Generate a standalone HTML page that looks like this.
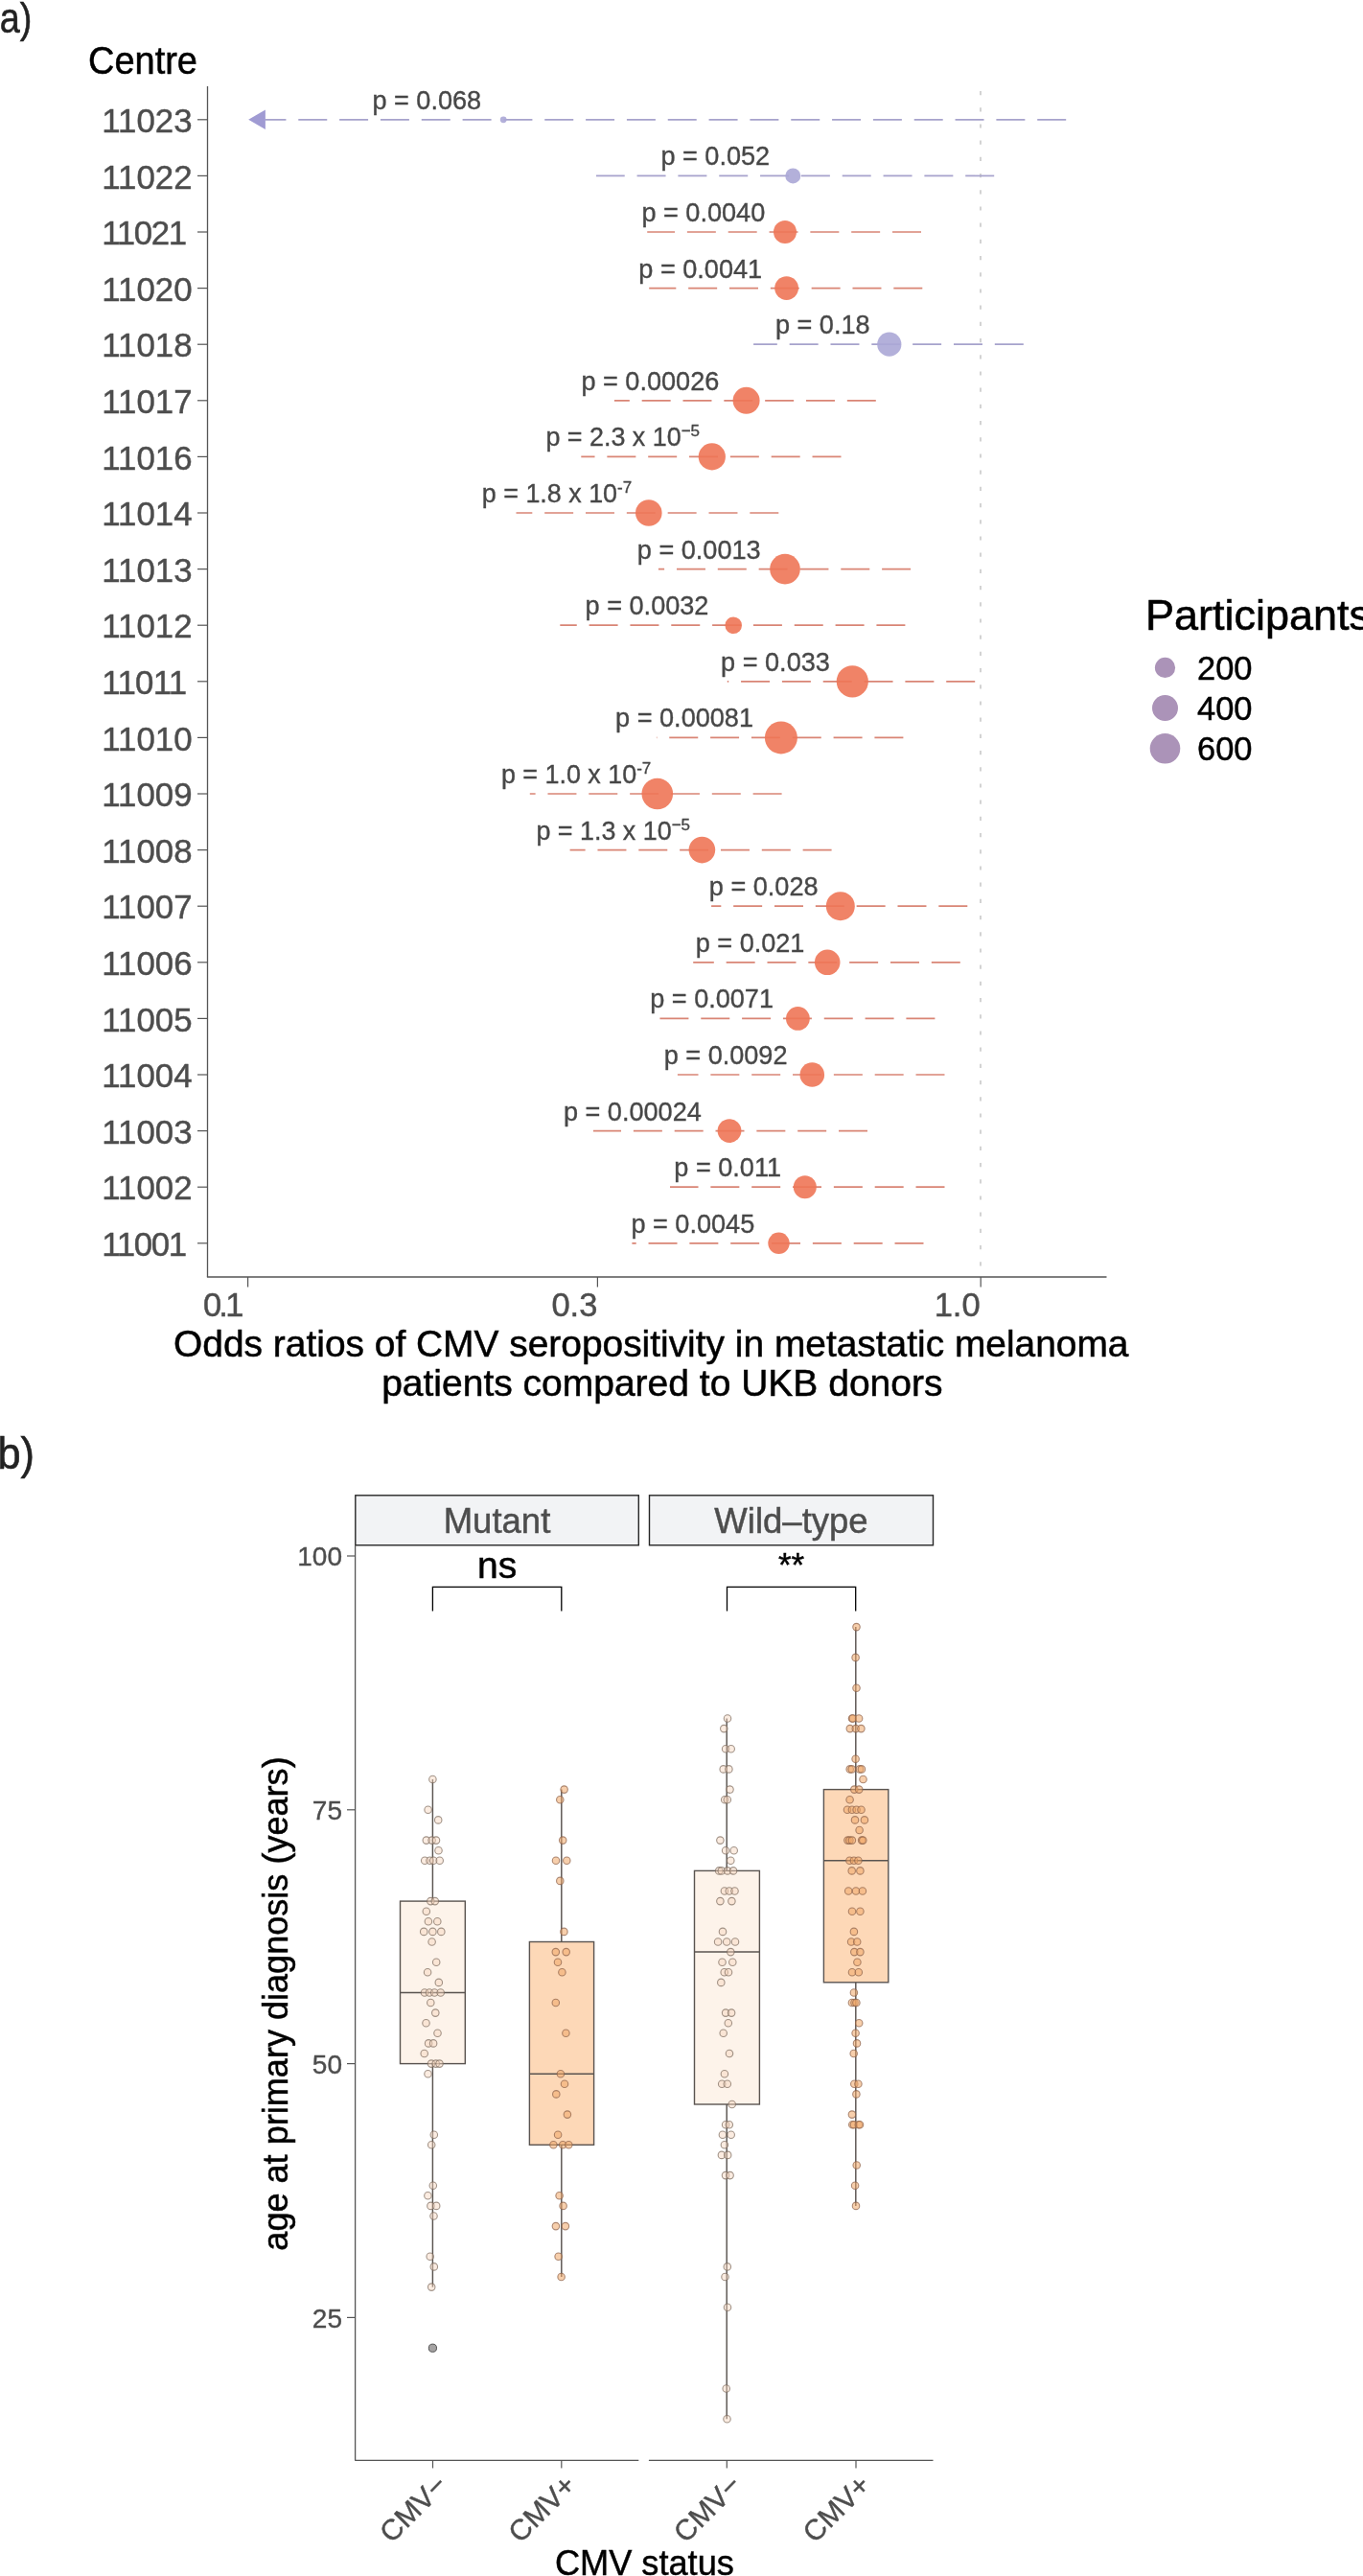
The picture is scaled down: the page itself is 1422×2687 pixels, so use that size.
<!DOCTYPE html>
<html><head><meta charset="utf-8"><style>
html,body{margin:0;padding:0;background:#fff;width:1422px;height:2687px;overflow:hidden}
svg text{font-family:"Liberation Sans", sans-serif}
</style></head><body>
<svg width="1422" height="2687" viewBox="0 0 1422 2687" style="position:absolute;left:0;top:0;will-change:transform">
<rect width="1422" height="2687" fill="#fff"/>
<text x="-0.3" y="33.8" font-size="45" fill="#222" textLength="33.6" lengthAdjust="spacingAndGlyphs" stroke="#222" stroke-width="0.58">a)</text>
<text x="-2.5" y="1532" font-size="46" fill="#222" textLength="38.5" lengthAdjust="spacingAndGlyphs" stroke="#222" stroke-width="0.60">b)</text>
<text x="92" y="76.6" font-size="40" fill="#000" textLength="114" lengthAdjust="spacingAndGlyphs" stroke="#000" stroke-width="0.52">Centre</text>
<line x1="1023" y1="90" x2="1023" y2="1332.0" stroke="#c9c9c9" stroke-width="1.6" stroke-dasharray="4.2 13" stroke-dashoffset="-5"/>
<line x1="206" y1="124.8" x2="216.5" y2="124.8" stroke="#555555" stroke-width="1.2"/>
<text x="200.5" y="138.0" font-size="34.8" fill="#4D4D4D" text-anchor="end" stroke="#4D4D4D" stroke-width="0.45">11023</text>
<line x1="1112.2" y1="124.8" x2="276.5" y2="124.8" stroke="#A6A2CC" stroke-width="1.7" stroke-dasharray="29.98 12.85"/>
<path d="M259.2 124.8 L276.9 114.6 L276.9 135.0 Z" fill="#A09BD3"/>
<circle cx="525.2" cy="124.8" r="3.4" fill="#ABA7D6" fill-opacity="0.9"/>
<text x="388.4" y="113.8" font-size="27.1" fill="#474747" stroke="#474747" stroke-width="0.35">p = 0.068</text>
<line x1="206" y1="183.4" x2="216.5" y2="183.4" stroke="#555555" stroke-width="1.2"/>
<text x="200.5" y="196.6" font-size="34.8" fill="#4D4D4D" text-anchor="end" stroke="#4D4D4D" stroke-width="0.45">11022</text>
<line x1="1037.2" y1="183.4" x2="622.0" y2="183.4" stroke="#A6A2CC" stroke-width="1.7" stroke-dasharray="29.98 12.85"/>
<circle cx="827.3" cy="183.4" r="8.0" fill="#ABA7D6" fill-opacity="0.9"/>
<text x="689.4000000000001" y="172.4" font-size="27.1" fill="#474747" stroke="#474747" stroke-width="0.35">p = 0.052</text>
<line x1="206" y1="242.0" x2="216.5" y2="242.0" stroke="#555555" stroke-width="1.2"/>
<text x="195.2" y="255.2" font-size="34.8" fill="#4D4D4D" text-anchor="end" textLength="88.9" lengthAdjust="spacing" stroke="#4D4D4D" stroke-width="0.45">11021</text>
<line x1="961.0" y1="242.0" x2="675.2" y2="242.0" stroke="#D98575" stroke-width="1.7" stroke-dasharray="29.98 12.85"/>
<circle cx="819.0" cy="242.0" r="12.0" fill="#EE7556" fill-opacity="0.9"/>
<text x="669.4000000000001" y="231.0" font-size="27.1" fill="#474747" stroke="#474747" stroke-width="0.35">p = 0.0040</text>
<line x1="206" y1="300.6" x2="216.5" y2="300.6" stroke="#555555" stroke-width="1.2"/>
<text x="200.5" y="313.8" font-size="34.8" fill="#4D4D4D" text-anchor="end" stroke="#4D4D4D" stroke-width="0.45">11020</text>
<line x1="962.3" y1="300.6" x2="677.2" y2="300.6" stroke="#D98575" stroke-width="1.7" stroke-dasharray="29.98 12.85"/>
<circle cx="820.6" cy="300.6" r="12.4" fill="#EE7556" fill-opacity="0.9"/>
<text x="666.3000000000001" y="289.6" font-size="27.1" fill="#474747" stroke="#474747" stroke-width="0.35">p = 0.0041</text>
<line x1="206" y1="359.2" x2="216.5" y2="359.2" stroke="#555555" stroke-width="1.2"/>
<text x="200.5" y="372.4" font-size="34.8" fill="#4D4D4D" text-anchor="end" stroke="#4D4D4D" stroke-width="0.45">11018</text>
<line x1="1067.8" y1="359.2" x2="786.1" y2="359.2" stroke="#A6A2CC" stroke-width="1.7" stroke-dasharray="29.98 12.85"/>
<circle cx="927.8" cy="359.2" r="12.6" fill="#ABA7D6" fill-opacity="0.9"/>
<text x="808.9000000000001" y="348.2" font-size="27.1" fill="#474747" stroke="#474747" stroke-width="0.35">p = 0.18</text>
<line x1="206" y1="417.8" x2="216.5" y2="417.8" stroke="#555555" stroke-width="1.2"/>
<text x="200.5" y="431.0" font-size="34.8" fill="#4D4D4D" text-anchor="end" stroke="#4D4D4D" stroke-width="0.45">11017</text>
<line x1="913.8" y1="417.8" x2="640.9" y2="417.8" stroke="#D98575" stroke-width="1.7" stroke-dasharray="29.98 12.85"/>
<circle cx="778.6" cy="417.8" r="14.0" fill="#EE7556" fill-opacity="0.9"/>
<text x="606.4000000000001" y="406.8" font-size="27.1" fill="#474747" stroke="#474747" stroke-width="0.35">p = 0.00026</text>
<line x1="206" y1="476.4" x2="216.5" y2="476.4" stroke="#555555" stroke-width="1.2"/>
<text x="200.5" y="489.6" font-size="34.8" fill="#4D4D4D" text-anchor="end" stroke="#4D4D4D" stroke-width="0.45">11016</text>
<line x1="877.5" y1="476.4" x2="606.3" y2="476.4" stroke="#D98575" stroke-width="1.7" stroke-dasharray="29.98 12.85"/>
<circle cx="742.8" cy="476.4" r="14.1" fill="#EE7556" fill-opacity="0.9"/>
<text x="569.4" y="465.4" font-size="26.9" fill="#474747" stroke="#474747" stroke-width="0.35">p = 2.3 x 10<tspan font-size="17" dy="-10">−5</tspan></text>
<line x1="206" y1="535.0" x2="216.5" y2="535.0" stroke="#555555" stroke-width="1.2"/>
<text x="200.5" y="548.2" font-size="34.8" fill="#4D4D4D" text-anchor="end" stroke="#4D4D4D" stroke-width="0.45">11014</text>
<line x1="812.3" y1="535.0" x2="538.5" y2="535.0" stroke="#D98575" stroke-width="1.7" stroke-dasharray="29.98 12.85"/>
<circle cx="676.8" cy="535.0" r="13.8" fill="#EE7556" fill-opacity="0.9"/>
<text x="502.8" y="524.0" font-size="26.9" fill="#474747" stroke="#474747" stroke-width="0.35">p = 1.8 x 10<tspan font-size="17" dy="-10">-7</tspan></text>
<line x1="206" y1="593.6" x2="216.5" y2="593.6" stroke="#555555" stroke-width="1.2"/>
<text x="200.5" y="606.8" font-size="34.8" fill="#4D4D4D" text-anchor="end" stroke="#4D4D4D" stroke-width="0.45">11013</text>
<line x1="950.1" y1="593.6" x2="686.9" y2="593.6" stroke="#D98575" stroke-width="1.7" stroke-dasharray="29.98 12.85"/>
<circle cx="819.0" cy="593.6" r="15.8" fill="#EE7556" fill-opacity="0.9"/>
<text x="664.8000000000001" y="582.6" font-size="27.1" fill="#474747" stroke="#474747" stroke-width="0.35">p = 0.0013</text>
<line x1="206" y1="652.2" x2="216.5" y2="652.2" stroke="#555555" stroke-width="1.2"/>
<text x="200.5" y="665.4" font-size="34.8" fill="#4D4D4D" text-anchor="end" stroke="#4D4D4D" stroke-width="0.45">11012</text>
<line x1="944.4" y1="652.2" x2="584.3" y2="652.2" stroke="#D98575" stroke-width="1.7" stroke-dasharray="29.98 12.85"/>
<circle cx="765.2" cy="652.2" r="8.8" fill="#EE7556" fill-opacity="0.9"/>
<text x="610.6" y="641.2" font-size="27.1" fill="#474747" stroke="#474747" stroke-width="0.35">p = 0.0032</text>
<line x1="206" y1="710.8" x2="216.5" y2="710.8" stroke="#555555" stroke-width="1.2"/>
<text x="195.2" y="724.0" font-size="34.8" fill="#4D4D4D" text-anchor="end" textLength="88.9" lengthAdjust="spacing" stroke="#4D4D4D" stroke-width="0.45">11011</text>
<line x1="1017.2" y1="710.8" x2="758.8" y2="710.8" stroke="#D98575" stroke-width="1.7" stroke-dasharray="29.98 12.85"/>
<circle cx="889.3" cy="710.8" r="16.6" fill="#EE7556" fill-opacity="0.9"/>
<text x="752.1" y="699.8" font-size="27.1" fill="#474747" stroke="#474747" stroke-width="0.35">p = 0.033</text>
<line x1="206" y1="769.4" x2="216.5" y2="769.4" stroke="#555555" stroke-width="1.2"/>
<text x="200.5" y="782.6" font-size="34.8" fill="#4D4D4D" text-anchor="end" stroke="#4D4D4D" stroke-width="0.45">11010</text>
<line x1="942.4" y1="769.4" x2="684.9" y2="769.4" stroke="#D98575" stroke-width="1.7" stroke-dasharray="29.98 12.85"/>
<circle cx="814.9" cy="769.4" r="17.0" fill="#EE7556" fill-opacity="0.9"/>
<text x="642.1" y="758.4" font-size="27.1" fill="#474747" stroke="#474747" stroke-width="0.35">p = 0.00081</text>
<line x1="206" y1="828.0" x2="216.5" y2="828.0" stroke="#555555" stroke-width="1.2"/>
<text x="200.5" y="841.2" font-size="34.8" fill="#4D4D4D" text-anchor="end" stroke="#4D4D4D" stroke-width="0.45">11009</text>
<line x1="815.6" y1="828.0" x2="552.8" y2="828.0" stroke="#D98575" stroke-width="1.7" stroke-dasharray="29.98 12.85"/>
<circle cx="685.8" cy="828.0" r="16.3" fill="#EE7556" fill-opacity="0.9"/>
<text x="522.9" y="817.0" font-size="26.9" fill="#474747" stroke="#474747" stroke-width="0.35">p = 1.0 x 10<tspan font-size="17" dy="-10">-7</tspan></text>
<line x1="206" y1="886.6" x2="216.5" y2="886.6" stroke="#555555" stroke-width="1.2"/>
<text x="200.5" y="899.8" font-size="34.8" fill="#4D4D4D" text-anchor="end" stroke="#4D4D4D" stroke-width="0.45">11008</text>
<line x1="867.6" y1="886.6" x2="594.6" y2="886.6" stroke="#D98575" stroke-width="1.7" stroke-dasharray="29.98 12.85"/>
<circle cx="732.4" cy="886.6" r="13.8" fill="#EE7556" fill-opacity="0.9"/>
<text x="559.4" y="875.6" font-size="26.9" fill="#474747" stroke="#474747" stroke-width="0.35">p = 1.3 x 10<tspan font-size="17" dy="-10">−5</tspan></text>
<line x1="206" y1="945.2" x2="216.5" y2="945.2" stroke="#555555" stroke-width="1.2"/>
<text x="200.5" y="958.4" font-size="34.8" fill="#4D4D4D" text-anchor="end" stroke="#4D4D4D" stroke-width="0.45">11007</text>
<line x1="1009.3" y1="945.2" x2="742.1" y2="945.2" stroke="#D98575" stroke-width="1.7" stroke-dasharray="29.98 12.85"/>
<circle cx="876.8" cy="945.2" r="15.0" fill="#EE7556" fill-opacity="0.9"/>
<text x="739.8000000000001" y="934.2" font-size="27.1" fill="#474747" stroke="#474747" stroke-width="0.35">p = 0.028</text>
<line x1="206" y1="1003.8" x2="216.5" y2="1003.8" stroke="#555555" stroke-width="1.2"/>
<text x="200.5" y="1017.0" font-size="34.8" fill="#4D4D4D" text-anchor="end" stroke="#4D4D4D" stroke-width="0.45">11006</text>
<line x1="1001.8" y1="1003.8" x2="723.2" y2="1003.8" stroke="#D98575" stroke-width="1.7" stroke-dasharray="29.98 12.85"/>
<circle cx="863.2" cy="1003.8" r="13.3" fill="#EE7556" fill-opacity="0.9"/>
<text x="725.7" y="992.8" font-size="27.1" fill="#474747" stroke="#474747" stroke-width="0.35">p = 0.021</text>
<line x1="206" y1="1062.4" x2="216.5" y2="1062.4" stroke="#555555" stroke-width="1.2"/>
<text x="200.5" y="1075.6" font-size="34.8" fill="#4D4D4D" text-anchor="end" stroke="#4D4D4D" stroke-width="0.45">11005</text>
<line x1="975.4" y1="1062.4" x2="688.4" y2="1062.4" stroke="#D98575" stroke-width="1.7" stroke-dasharray="29.98 12.85"/>
<circle cx="832.4" cy="1062.4" r="12.4" fill="#EE7556" fill-opacity="0.9"/>
<text x="678.2" y="1051.4" font-size="27.1" fill="#474747" stroke="#474747" stroke-width="0.35">p = 0.0071</text>
<line x1="206" y1="1121.0" x2="216.5" y2="1121.0" stroke="#555555" stroke-width="1.2"/>
<text x="200.5" y="1134.2" font-size="34.8" fill="#4D4D4D" text-anchor="end" stroke="#4D4D4D" stroke-width="0.45">11004</text>
<line x1="985.5" y1="1121.0" x2="706.9" y2="1121.0" stroke="#D98575" stroke-width="1.7" stroke-dasharray="29.98 12.85"/>
<circle cx="847.3" cy="1121.0" r="12.8" fill="#EE7556" fill-opacity="0.9"/>
<text x="692.7" y="1110.0" font-size="27.1" fill="#474747" stroke="#474747" stroke-width="0.35">p = 0.0092</text>
<line x1="206" y1="1179.6" x2="216.5" y2="1179.6" stroke="#555555" stroke-width="1.2"/>
<text x="200.5" y="1192.8" font-size="34.8" fill="#4D4D4D" text-anchor="end" stroke="#4D4D4D" stroke-width="0.45">11003</text>
<line x1="905.0" y1="1179.6" x2="618.9" y2="1179.6" stroke="#D98575" stroke-width="1.7" stroke-dasharray="29.98 12.85"/>
<circle cx="761.0" cy="1179.6" r="12.4" fill="#EE7556" fill-opacity="0.9"/>
<text x="587.9000000000001" y="1168.6" font-size="27.1" fill="#474747" stroke="#474747" stroke-width="0.35">p = 0.00024</text>
<line x1="206" y1="1238.2" x2="216.5" y2="1238.2" stroke="#555555" stroke-width="1.2"/>
<text x="200.5" y="1251.4" font-size="34.8" fill="#4D4D4D" text-anchor="end" stroke="#4D4D4D" stroke-width="0.45">11002</text>
<line x1="985.5" y1="1238.2" x2="699.0" y2="1238.2" stroke="#D98575" stroke-width="1.7" stroke-dasharray="29.98 12.85"/>
<circle cx="839.8" cy="1238.2" r="12.0" fill="#EE7556" fill-opacity="0.9"/>
<text x="703.3000000000001" y="1227.2" font-size="27.1" fill="#474747" stroke="#474747" stroke-width="0.35">p = 0.011</text>
<line x1="206" y1="1296.8" x2="216.5" y2="1296.8" stroke="#555555" stroke-width="1.2"/>
<text x="195.2" y="1310.0" font-size="34.8" fill="#4D4D4D" text-anchor="end" textLength="88.9" lengthAdjust="spacing" stroke="#4D4D4D" stroke-width="0.45">11001</text>
<line x1="963.5" y1="1296.8" x2="659.4" y2="1296.8" stroke="#D98575" stroke-width="1.7" stroke-dasharray="29.98 12.85"/>
<circle cx="812.5" cy="1296.8" r="11.2" fill="#EE7556" fill-opacity="0.9"/>
<text x="658.4000000000001" y="1285.8" font-size="27.1" fill="#474747" stroke="#474747" stroke-width="0.35">p = 0.0045</text>
<line x1="216.5" y1="90" x2="216.5" y2="1332.0" stroke="#555555" stroke-width="1.3"/>
<line x1="215.9" y1="1332.0" x2="1154.5" y2="1332.0" stroke="#555555" stroke-width="1.3"/>
<line x1="258.6" y1="1332.0" x2="258.6" y2="1342.5" stroke="#555555" stroke-width="1.2"/>
<text x="254.4" y="1372.5" font-size="34.5" fill="#4D4D4D" text-anchor="end" textLength="42.5" lengthAdjust="spacing" stroke="#4D4D4D" stroke-width="0.45">0.1</text>
<line x1="623.4" y1="1332.0" x2="623.4" y2="1342.5" stroke="#555555" stroke-width="1.2"/>
<text x="623.4" y="1372.5" font-size="34.5" fill="#4D4D4D" text-anchor="end" stroke="#4D4D4D" stroke-width="0.45">0.3</text>
<line x1="1023.2" y1="1332.0" x2="1023.2" y2="1342.5" stroke="#555555" stroke-width="1.2"/>
<text x="1022.6" y="1372.5" font-size="34.5" fill="#4D4D4D" text-anchor="end" stroke="#4D4D4D" stroke-width="0.45">1.0</text>
<text x="679.3" y="1414.6" font-size="38.9" fill="#000" text-anchor="middle" stroke="#000" stroke-width="0.51">Odds ratios of CMV seropositivity in metastatic melanoma</text>
<text x="690.8" y="1455.8" font-size="39.0" fill="#000" text-anchor="middle" stroke="#000" stroke-width="0.51">patients compared to UKB donors</text>
<text x="1195" y="656.8" font-size="45" fill="#000" stroke="#000" stroke-width="0.58">Participants</text>
<circle cx="1215.5" cy="696.4" r="10.6" fill="#AB93B8"/>
<text x="1249" y="708.7" font-size="34.5" fill="#000" stroke="#000" stroke-width="0.45">200</text>
<circle cx="1215.5" cy="738.5" r="13.5" fill="#AB93B8"/>
<text x="1249" y="751" font-size="34.5" fill="#000" stroke="#000" stroke-width="0.45">400</text>
<circle cx="1215.5" cy="780.8" r="15.8" fill="#AB93B8"/>
<text x="1249" y="792.6" font-size="34.5" fill="#000" stroke="#000" stroke-width="0.45">600</text>
<rect x="370.8" y="1559.8" width="295.49999999999994" height="52.0" fill="#F2F3F5" stroke="#262626" stroke-width="1.4"/>
<text x="518.5" y="1599.4" font-size="36.5" fill="#4D4D4D" text-anchor="middle" stroke="#4D4D4D" stroke-width="0.47">Mutant</text>
<rect x="677.5" y="1559.8" width="296.0" height="52.0" fill="#F2F3F5" stroke="#262626" stroke-width="1.4"/>
<text x="825.5" y="1599.4" font-size="36.5" fill="#4D4D4D" text-anchor="middle" stroke="#4D4D4D" stroke-width="0.47">Wild–type</text>
<line x1="370.6" y1="1611.8" x2="370.6" y2="2566.4" stroke="#555555" stroke-width="1.3"/>
<line x1="370.2" y1="2566.4" x2="666.3" y2="2566.4" stroke="#555555" stroke-width="1.3"/>
<line x1="676.9" y1="2566.4" x2="973.5" y2="2566.4" stroke="#555555" stroke-width="1.3"/>
<line x1="362" y1="1623.0" x2="370.6" y2="1623.0" stroke="#555555" stroke-width="1.2"/>
<text x="357" y="1633.2" font-size="28" fill="#4D4D4D" text-anchor="end" stroke="#4D4D4D" stroke-width="0.36">100</text>
<line x1="362" y1="1887.8" x2="370.6" y2="1887.8" stroke="#555555" stroke-width="1.2"/>
<text x="357" y="1898.0" font-size="28" fill="#4D4D4D" text-anchor="end" stroke="#4D4D4D" stroke-width="0.36">75</text>
<line x1="362" y1="2152.6" x2="370.6" y2="2152.6" stroke="#555555" stroke-width="1.2"/>
<text x="357" y="2162.8" font-size="28" fill="#4D4D4D" text-anchor="end" stroke="#4D4D4D" stroke-width="0.36">50</text>
<line x1="362" y1="2417.4" x2="370.6" y2="2417.4" stroke="#555555" stroke-width="1.2"/>
<text x="357" y="2427.6" font-size="28" fill="#4D4D4D" text-anchor="end" stroke="#4D4D4D" stroke-width="0.36">25</text>
<line x1="451.5" y1="2566.4" x2="451.5" y2="2574.5" stroke="#555555" stroke-width="1.2"/>
<text transform="translate(468.1,2594.1) rotate(-45)" font-size="30" fill="#4D4D4D" text-anchor="end" stroke="#4D4D4D" stroke-width="0.39">CMV−</text>
<line x1="585.8" y1="2566.4" x2="585.8" y2="2574.5" stroke="#555555" stroke-width="1.2"/>
<text transform="translate(602.4,2594.1) rotate(-45)" font-size="30" fill="#4D4D4D" text-anchor="end" stroke="#4D4D4D" stroke-width="0.39">CMV+</text>
<line x1="758.3" y1="2566.4" x2="758.3" y2="2574.5" stroke="#555555" stroke-width="1.2"/>
<text transform="translate(774.9,2594.1) rotate(-45)" font-size="30" fill="#4D4D4D" text-anchor="end" stroke="#4D4D4D" stroke-width="0.39">CMV−</text>
<line x1="893.0" y1="2566.4" x2="893.0" y2="2574.5" stroke="#555555" stroke-width="1.2"/>
<text transform="translate(909.6,2594.1) rotate(-45)" font-size="30" fill="#4D4D4D" text-anchor="end" stroke="#4D4D4D" stroke-width="0.39">CMV+</text>
<text x="672.4" y="2685.6" font-size="36.2" fill="#000" text-anchor="middle" stroke="#000" stroke-width="0.47">CMV status</text>
<text transform="translate(300.2,2090.0) rotate(-90)" font-size="36.1" fill="#000" text-anchor="middle" stroke="#000" stroke-width="0.47">age at primary diagnosis (years)</text>
<path d="M451.4 1680.4 V1655.3 H585.8 V1680.4" fill="none" stroke="#000" stroke-width="1.3"/>
<path d="M758.5 1680.4 V1655.3 H892.7 V1680.4" fill="none" stroke="#000" stroke-width="1.3"/>
<text x="518.6" y="1645.6" font-size="39" fill="#000" text-anchor="middle" stroke="#000" stroke-width="0.51">ns</text>
<text x="825.5" y="1643.5" font-size="35" fill="#000" text-anchor="middle" stroke="#000" stroke-width="0.45">**</text>
<line x1="451.4" y1="1856.0" x2="451.4" y2="1983.1" stroke="#5A5450" stroke-width="1.45"/>
<line x1="451.4" y1="2152.6" x2="451.4" y2="2385.6" stroke="#5A5450" stroke-width="1.45"/>
<rect x="417.5" y="1983.1" width="67.8" height="169.5" fill="#FDF3EA" stroke="#5A5450" stroke-width="1.4"/>
<line x1="417.5" y1="2078.5" x2="485.3" y2="2078.5" stroke="#5A5450" stroke-width="1.5"/>
<circle cx="451.4" cy="2449.2" r="4.1" fill="#A5A3A3" stroke="#505050" stroke-width="1"/>
<line x1="585.8" y1="1866.6" x2="585.8" y2="2025.5" stroke="#5A5450" stroke-width="1.45"/>
<line x1="585.8" y1="2237.3" x2="585.8" y2="2375.0" stroke="#5A5450" stroke-width="1.45"/>
<rect x="552.4" y="2025.5" width="67.2" height="211.8" fill="#FDD8B7" stroke="#5A5450" stroke-width="1.4"/>
<line x1="552.4" y1="2163.2" x2="619.6" y2="2163.2" stroke="#5A5450" stroke-width="1.5"/>
<line x1="758.2" y1="1792.5" x2="758.2" y2="1951.4" stroke="#5A5450" stroke-width="1.45"/>
<line x1="758.2" y1="2195.0" x2="758.2" y2="2523.3" stroke="#5A5450" stroke-width="1.45"/>
<rect x="724.5" y="1951.4" width="67.9" height="243.6" fill="#FDF3EA" stroke="#5A5450" stroke-width="1.4"/>
<line x1="724.5" y1="2036.1" x2="792.4" y2="2036.1" stroke="#5A5450" stroke-width="1.5"/>
<line x1="892.8" y1="1697.1" x2="892.8" y2="1866.6" stroke="#5A5450" stroke-width="1.45"/>
<line x1="892.8" y1="2067.9" x2="892.8" y2="2300.9" stroke="#5A5450" stroke-width="1.45"/>
<rect x="859.4" y="1866.6" width="67.4" height="201.2" fill="#FDD8B7" stroke="#5A5450" stroke-width="1.4"/>
<line x1="859.4" y1="1940.8" x2="926.8" y2="1940.8" stroke="#5A5450" stroke-width="1.5"/>
<g fill="#F6D5BC" fill-opacity="0.45" stroke="#7A6A5C" stroke-opacity="0.7" stroke-width="1.1">
<circle cx="451.4" cy="1856.0" r="3.75"/>
<circle cx="446.6" cy="1887.8" r="3.75"/>
<circle cx="457.2" cy="1898.4" r="3.75"/>
<circle cx="444.8" cy="1919.6" r="3.75"/>
<circle cx="450.6" cy="1919.6" r="3.75"/>
<circle cx="455.0" cy="1919.6" r="3.75"/>
<circle cx="457.5" cy="1930.2" r="3.75"/>
<circle cx="443.2" cy="1940.8" r="3.75"/>
<circle cx="448.5" cy="1940.8" r="3.75"/>
<circle cx="452.2" cy="1940.8" r="3.75"/>
<circle cx="458.7" cy="1940.8" r="3.75"/>
<circle cx="449.3" cy="1983.1" r="3.75"/>
<circle cx="453.8" cy="1983.1" r="3.75"/>
<circle cx="444.8" cy="1993.7" r="3.75"/>
<circle cx="446.9" cy="2004.3" r="3.75"/>
<circle cx="456.3" cy="2004.3" r="3.75"/>
<circle cx="442.2" cy="2014.9" r="3.75"/>
<circle cx="451.4" cy="2014.9" r="3.75"/>
<circle cx="460.3" cy="2014.9" r="3.75"/>
<circle cx="450.6" cy="2025.5" r="3.75"/>
<circle cx="455.2" cy="2046.7" r="3.75"/>
<circle cx="446.1" cy="2057.3" r="3.75"/>
<circle cx="457.8" cy="2067.9" r="3.75"/>
<circle cx="443.0" cy="2078.5" r="3.75"/>
<circle cx="448.0" cy="2078.5" r="3.75"/>
<circle cx="453.3" cy="2078.5" r="3.75"/>
<circle cx="459.7" cy="2078.5" r="3.75"/>
<circle cx="449.3" cy="2089.0" r="3.75"/>
<circle cx="454.3" cy="2099.6" r="3.75"/>
<circle cx="444.5" cy="2110.2" r="3.75"/>
<circle cx="456.5" cy="2120.8" r="3.75"/>
<circle cx="447.1" cy="2131.4" r="3.75"/>
<circle cx="452.1" cy="2131.4" r="3.75"/>
<circle cx="442.7" cy="2142.0" r="3.75"/>
<circle cx="450.0" cy="2152.6" r="3.75"/>
<circle cx="454.7" cy="2152.6" r="3.75"/>
<circle cx="458.5" cy="2152.6" r="3.75"/>
<circle cx="446.5" cy="2163.2" r="3.75"/>
<circle cx="452.8" cy="2226.7" r="3.75"/>
<circle cx="450.2" cy="2237.3" r="3.75"/>
<circle cx="451.8" cy="2279.7" r="3.75"/>
<circle cx="446.4" cy="2290.3" r="3.75"/>
<circle cx="449.4" cy="2300.9" r="3.75"/>
<circle cx="455.2" cy="2300.9" r="3.75"/>
<circle cx="452.5" cy="2311.5" r="3.75"/>
<circle cx="448.7" cy="2353.8" r="3.75"/>
<circle cx="452.8" cy="2364.4" r="3.75"/>
<circle cx="450.2" cy="2385.6" r="3.75"/>
</g>
<g fill="#F0A868" fill-opacity="0.55" stroke="#8A6048" stroke-opacity="0.7" stroke-width="1.1">
<circle cx="588.6" cy="1866.6" r="3.75"/>
<circle cx="584.3" cy="1877.2" r="3.75"/>
<circle cx="587.2" cy="1919.6" r="3.75"/>
<circle cx="580.0" cy="1940.8" r="3.75"/>
<circle cx="591.3" cy="1940.8" r="3.75"/>
<circle cx="584.3" cy="1961.9" r="3.75"/>
<circle cx="588.4" cy="2014.9" r="3.75"/>
<circle cx="579.8" cy="2036.1" r="3.75"/>
<circle cx="590.7" cy="2036.1" r="3.75"/>
<circle cx="582.0" cy="2046.7" r="3.75"/>
<circle cx="586.4" cy="2057.3" r="3.75"/>
<circle cx="579.8" cy="2089.0" r="3.75"/>
<circle cx="590.4" cy="2120.8" r="3.75"/>
<circle cx="584.9" cy="2163.2" r="3.75"/>
<circle cx="589.0" cy="2173.8" r="3.75"/>
<circle cx="580.3" cy="2184.4" r="3.75"/>
<circle cx="591.9" cy="2205.6" r="3.75"/>
<circle cx="582.1" cy="2226.7" r="3.75"/>
<circle cx="577.4" cy="2237.3" r="3.75"/>
<circle cx="587.2" cy="2237.3" r="3.75"/>
<circle cx="593.3" cy="2237.3" r="3.75"/>
<circle cx="583.6" cy="2290.3" r="3.75"/>
<circle cx="587.6" cy="2300.9" r="3.75"/>
<circle cx="579.9" cy="2322.1" r="3.75"/>
<circle cx="589.9" cy="2322.1" r="3.75"/>
<circle cx="582.6" cy="2353.8" r="3.75"/>
<circle cx="585.6" cy="2375.0" r="3.75"/>
</g>
<g fill="#F6D5BC" fill-opacity="0.45" stroke="#7A6A5C" stroke-opacity="0.7" stroke-width="1.1">
<circle cx="759.0" cy="1792.5" r="3.75"/>
<circle cx="755.3" cy="1803.1" r="3.75"/>
<circle cx="757.1" cy="1824.2" r="3.75"/>
<circle cx="762.7" cy="1824.2" r="3.75"/>
<circle cx="754.7" cy="1845.4" r="3.75"/>
<circle cx="760.4" cy="1845.4" r="3.75"/>
<circle cx="761.5" cy="1866.6" r="3.75"/>
<circle cx="756.2" cy="1877.2" r="3.75"/>
<circle cx="758.8" cy="1877.2" r="3.75"/>
<circle cx="751.4" cy="1919.6" r="3.75"/>
<circle cx="757.1" cy="1930.2" r="3.75"/>
<circle cx="765.7" cy="1930.2" r="3.75"/>
<circle cx="762.3" cy="1940.8" r="3.75"/>
<circle cx="750.2" cy="1951.4" r="3.75"/>
<circle cx="752.8" cy="1951.4" r="3.75"/>
<circle cx="759.0" cy="1951.4" r="3.75"/>
<circle cx="765.0" cy="1951.4" r="3.75"/>
<circle cx="755.9" cy="1972.5" r="3.75"/>
<circle cx="760.8" cy="1972.5" r="3.75"/>
<circle cx="766.5" cy="1972.5" r="3.75"/>
<circle cx="751.4" cy="1983.1" r="3.75"/>
<circle cx="763.4" cy="1983.1" r="3.75"/>
<circle cx="754.0" cy="2014.9" r="3.75"/>
<circle cx="749.1" cy="2025.5" r="3.75"/>
<circle cx="758.2" cy="2025.5" r="3.75"/>
<circle cx="767.0" cy="2025.5" r="3.75"/>
<circle cx="762.3" cy="2036.1" r="3.75"/>
<circle cx="753.5" cy="2046.7" r="3.75"/>
<circle cx="764.3" cy="2046.7" r="3.75"/>
<circle cx="755.7" cy="2057.3" r="3.75"/>
<circle cx="760.0" cy="2057.3" r="3.75"/>
<circle cx="752.3" cy="2067.9" r="3.75"/>
<circle cx="757.1" cy="2099.6" r="3.75"/>
<circle cx="763.1" cy="2099.6" r="3.75"/>
<circle cx="759.8" cy="2110.2" r="3.75"/>
<circle cx="754.7" cy="2120.8" r="3.75"/>
<circle cx="761.0" cy="2142.0" r="3.75"/>
<circle cx="755.9" cy="2163.2" r="3.75"/>
<circle cx="753.2" cy="2173.8" r="3.75"/>
<circle cx="758.8" cy="2173.8" r="3.75"/>
<circle cx="763.7" cy="2195.0" r="3.75"/>
<circle cx="757.1" cy="2216.2" r="3.75"/>
<circle cx="760.8" cy="2216.2" r="3.75"/>
<circle cx="753.9" cy="2226.7" r="3.75"/>
<circle cx="762.7" cy="2226.7" r="3.75"/>
<circle cx="755.9" cy="2237.3" r="3.75"/>
<circle cx="752.9" cy="2247.9" r="3.75"/>
<circle cx="759.2" cy="2247.9" r="3.75"/>
<circle cx="757.0" cy="2269.1" r="3.75"/>
<circle cx="761.6" cy="2269.1" r="3.75"/>
<circle cx="758.8" cy="2364.4" r="3.75"/>
<circle cx="756.5" cy="2375.0" r="3.75"/>
<circle cx="759.0" cy="2406.8" r="3.75"/>
<circle cx="757.7" cy="2491.5" r="3.75"/>
<circle cx="758.5" cy="2523.3" r="3.75"/>
</g>
<g fill="#F0A868" fill-opacity="0.55" stroke="#8A6048" stroke-opacity="0.7" stroke-width="1.1">
<circle cx="893.5" cy="1697.1" r="3.75"/>
<circle cx="892.6" cy="1728.9" r="3.75"/>
<circle cx="893.5" cy="1760.7" r="3.75"/>
<circle cx="889.0" cy="1792.5" r="3.75"/>
<circle cx="889.8" cy="1792.5" r="3.75"/>
<circle cx="896.1" cy="1792.5" r="3.75"/>
<circle cx="886.8" cy="1803.1" r="3.75"/>
<circle cx="892.8" cy="1803.1" r="3.75"/>
<circle cx="898.4" cy="1803.1" r="3.75"/>
<circle cx="892.6" cy="1834.8" r="3.75"/>
<circle cx="886.7" cy="1845.4" r="3.75"/>
<circle cx="888.7" cy="1845.4" r="3.75"/>
<circle cx="896.9" cy="1845.4" r="3.75"/>
<circle cx="898.9" cy="1845.4" r="3.75"/>
<circle cx="900.5" cy="1856.0" r="3.75"/>
<circle cx="891.3" cy="1866.6" r="3.75"/>
<circle cx="896.2" cy="1866.6" r="3.75"/>
<circle cx="886.6" cy="1877.2" r="3.75"/>
<circle cx="884.0" cy="1887.8" r="3.75"/>
<circle cx="888.9" cy="1887.8" r="3.75"/>
<circle cx="893.6" cy="1887.8" r="3.75"/>
<circle cx="898.5" cy="1887.8" r="3.75"/>
<circle cx="892.0" cy="1898.4" r="3.75"/>
<circle cx="901.9" cy="1898.4" r="3.75"/>
<circle cx="896.6" cy="1909.0" r="3.75"/>
<circle cx="884.4" cy="1919.6" r="3.75"/>
<circle cx="886.4" cy="1919.6" r="3.75"/>
<circle cx="888.9" cy="1919.6" r="3.75"/>
<circle cx="899.1" cy="1919.6" r="3.75"/>
<circle cx="900.3" cy="1919.6" r="3.75"/>
<circle cx="886.4" cy="1940.8" r="3.75"/>
<circle cx="890.9" cy="1940.8" r="3.75"/>
<circle cx="895.4" cy="1940.8" r="3.75"/>
<circle cx="888.7" cy="1951.4" r="3.75"/>
<circle cx="897.4" cy="1951.4" r="3.75"/>
<circle cx="885.2" cy="1972.5" r="3.75"/>
<circle cx="893.0" cy="1972.5" r="3.75"/>
<circle cx="899.9" cy="1972.5" r="3.75"/>
<circle cx="889.0" cy="1993.7" r="3.75"/>
<circle cx="897.4" cy="1993.7" r="3.75"/>
<circle cx="890.9" cy="2014.9" r="3.75"/>
<circle cx="888.1" cy="2025.5" r="3.75"/>
<circle cx="894.2" cy="2025.5" r="3.75"/>
<circle cx="891.3" cy="2036.1" r="3.75"/>
<circle cx="897.4" cy="2036.1" r="3.75"/>
<circle cx="894.4" cy="2046.7" r="3.75"/>
<circle cx="889.0" cy="2057.3" r="3.75"/>
<circle cx="895.8" cy="2057.3" r="3.75"/>
<circle cx="890.9" cy="2078.5" r="3.75"/>
<circle cx="888.9" cy="2089.0" r="3.75"/>
<circle cx="891.5" cy="2089.0" r="3.75"/>
<circle cx="893.4" cy="2089.0" r="3.75"/>
<circle cx="896.2" cy="2110.2" r="3.75"/>
<circle cx="892.6" cy="2120.8" r="3.75"/>
<circle cx="894.0" cy="2131.4" r="3.75"/>
<circle cx="890.7" cy="2142.0" r="3.75"/>
<circle cx="891.3" cy="2173.8" r="3.75"/>
<circle cx="895.4" cy="2173.8" r="3.75"/>
<circle cx="893.4" cy="2184.4" r="3.75"/>
<circle cx="888.9" cy="2205.6" r="3.75"/>
<circle cx="889.3" cy="2216.2" r="3.75"/>
<circle cx="890.9" cy="2216.2" r="3.75"/>
<circle cx="895.8" cy="2216.2" r="3.75"/>
<circle cx="897.0" cy="2216.2" r="3.75"/>
<circle cx="893.7" cy="2258.5" r="3.75"/>
<circle cx="892.1" cy="2279.7" r="3.75"/>
<circle cx="893.0" cy="2300.9" r="3.75"/>
</g>
</svg>
</body></html>
